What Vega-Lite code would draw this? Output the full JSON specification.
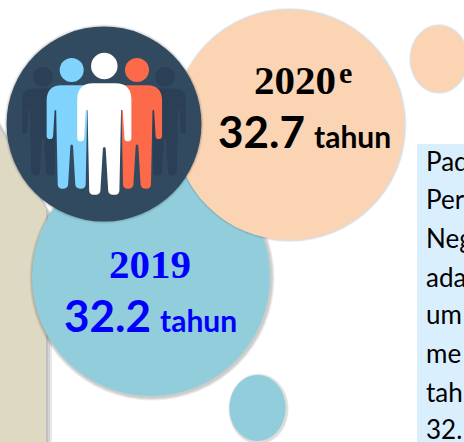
{
"$schema":"https://vega.github.io/schema/vega-lite/v6.json",
"width":464,"height":442,"padding":0,
"autosize":{"type":"fit","contains":"padding"},
"background":"#ffffff",
"view":{"stroke":null},
"datasets":{
"panel":[{"name":"note","x":417,"x2":464,"y":144,"y2":442}],
"band":[
{"ring":"s3","x":0,"y":122,"y2":442},{"ring":"s3","x":52,"y":215,"y2":442},
{"ring":"s2","x":0,"y":124,"y2":442},{"ring":"s2","x":50,"y":213,"y2":442},
{"ring":"s1","x":0,"y":126,"y2":442},{"ring":"s1","x":48,"y":211,"y2":442}
],
"beige":[{"x":0,"y":128,"y2":442},{"x":46,"y":209,"y2":442}],
"blobs":[
{"item":"shadow","form":"oval","x":258.5,"y":409,"area":5041,"kind":"shadow"},
{"item":"shadow","form":"oval","x":258.5,"y":409,"area":4761,"kind":"shadow"},
{"item":"shadow","form":"oval","x":439,"y":59,"area":4900,"kind":"shadow"},
{"item":"shadow","form":"oval","x":439,"y":59,"area":4624,"kind":"shadow"},
{"item":"y2020","form":"oval","x":439,"y":59,"area":4356,"kind":"solid"},
{"item":"y2019","form":"oval","x":257.5,"y":408,"area":4356,"kind":"solid"},
{"item":"shadow","form":"round","x":152,"y":278,"area":60025,"kind":"shadow"},
{"item":"shadow","form":"round","x":152,"y":278,"area":59049,"kind":"shadow"},
{"item":"shadow","form":"round","x":152,"y":278,"area":58081,"kind":"shadow"},
{"item":"y2019","form":"round","x":151,"y":277,"area":56644,"kind":"solid"},
{"item":"shadow","form":"round","x":289.5,"y":125,"area":54756,"kind":"shadow"},
{"item":"shadow","form":"round","x":289.5,"y":125,"area":53824,"kind":"shadow"},
{"item":"y2020","form":"round","x":289,"y":125,"area":52900,"kind":"solid"},
{"item":"shadow","form":"round","x":104,"y":124,"area":39601,"kind":"shadow"},
{"item":"shadow","form":"round","x":104,"y":124,"area":38809,"kind":"shadow"},
{"item":"icon","form":"round","x":104,"y":124,"area":38025,"kind":"solid"},
{"item":"dark","form":"round","x":43,"y":77,"area":400,"kind":"solid"},
{"item":"dark","form":"round","x":165,"y":77,"area":400,"kind":"solid"},
{"item":"dark","form":"person","x":43,"y":132,"area":7569,"kind":"solid"},
{"item":"dark","form":"person","x":165,"y":132,"area":7569,"kind":"solid"},
{"item":"sky","form":"round","x":71.7,"y":70,"area":576,"kind":"solid"},
{"item":"sky","form":"person","x":71.7,"y":137,"area":10680,"kind":"solid"},
{"item":"coral","form":"round","x":137,"y":70,"area":576,"kind":"solid"},
{"item":"coral","form":"person","x":137,"y":137,"area":10680,"kind":"solid"},
{"item":"white","form":"round","x":104.3,"y":66,"area":702,"kind":"solid"},
{"item":"white","form":"person","x":104.3,"y":139,"area":12470,"kind":"solid"}
],
"labels":[
{"text":"2020","role":"year","series":"2020","x":254,"y":94},
{"text":"e","role":"sup","series":"2020","x":339,"y":83},
{"text":"32.7","role":"value","series":"2020","x":218,"y":148},
{"text":"tahun","role":"unit","series":"2020","x":314,"y":148},
{"text":"2019","role":"year","series":"2019","x":109,"y":278},
{"text":"32.2","role":"value","series":"2019","x":64,"y":332},
{"text":"tahun","role":"unit","series":"2019","x":160,"y":332}
],
"note":[
{"text":"Pad","x":426,"y":171},{"text":"Per","x":426,"y":209},{"text":"Neg","x":426,"y":248},
{"text":"ada","x":426,"y":287},{"text":"um","x":426,"y":324},{"text":"me","x":426,"y":363},
{"text":"tah","x":426,"y":402},{"text":"32.","x":426,"y":439}
]
},
"resolve":{"scale":{"color":"independent","opacity":"independent"}},
"layer":[
{"data":{"name":"panel"},"mark":{"type":"rect","color":"#DAEFFE"},
"encoding":{
"x":{"field":"x","type":"quantitative","scale":{"domain":[0,464],"nice":false,"zero":false},"axis":null},
"x2":{"field":"x2"},
"y":{"field":"y","type":"quantitative","scale":{"domain":[442,0],"nice":false,"zero":false},"axis":null},
"y2":{"field":"y2"}}},
{"data":{"name":"band"},"mark":{"type":"area","color":"#000000","opacity":0.09},
"encoding":{
"detail":{"field":"ring"},
"x":{"field":"x","type":"quantitative","axis":null},
"y":{"field":"y","type":"quantitative","axis":null},
"y2":{"field":"y2"}}},
{"data":{"name":"beige"},"mark":{"type":"area","color":"#DDD9C3","opacity":1},
"encoding":{
"x":{"field":"x","type":"quantitative","axis":null},
"y":{"field":"y","type":"quantitative","axis":null},
"y2":{"field":"y2"}}},
{"data":{"name":"blobs"},"mark":{"type":"point","filled":true,"strokeWidth":0,"clip":true},
"encoding":{
"x":{"field":"x","type":"quantitative","axis":null},
"y":{"field":"y","type":"quantitative","axis":null},
"size":{"field":"area","type":"quantitative","legend":null,"scale":{"type":"linear","domain":[0,60000],"range":[0,60000],"zero":true}},
"shape":{"field":"form","type":"nominal","legend":null,"scale":{"domain":["round","oval","person"],"range":["circle","M -0.85,0 A 0.85,1 0 1 1 0.85,0 A 0.85,1 0 1 1 -0.85,0 Z","M -0.2,-1 L 0.2,-1 Q 0.485,-1 0.485,-0.7 L 0.485,-0.02 Q 0.485,0.04 0.42,0.04 Q 0.36,0.04 0.36,-0.02 L 0.33,-0.52 L 0.3,-0.52 L 0.27,0.93 Q 0.26,1 0.18,1 Q 0.08,1 0.07,0.93 L 0.025,0.17 Q 0,0.12 -0.025,0.17 L -0.07,0.93 Q -0.08,1 -0.18,1 Q -0.26,1 -0.27,0.93 L -0.3,-0.52 L -0.33,-0.52 L -0.36,-0.02 Q -0.36,0.04 -0.42,0.04 Q -0.485,0.04 -0.485,-0.02 L -0.485,-0.7 Q -0.485,-1 -0.2,-1 Z"]}},
"color":{"field":"item","type":"nominal","legend":null,"scale":{"domain":["shadow","y2019","y2020","icon","dark","sky","coral","white"],"range":["#000000","#92CDDC","#FBD4B4","#324A5F","#2B3F57","#7FD3FC","#FC6A4A","#FFFFFF"]}},
"opacity":{"field":"kind","type":"nominal","legend":null,"scale":{"domain":["shadow","solid"],"range":[0.07,1]}}
}},
{"data":{"name":"labels"},"transform":[{"filter":"datum.role==='year'"}],
"mark":{"type":"text","font":"Liberation Serif","fontWeight":"bold","fontSize":41,"align":"left","baseline":"alphabetic"},
"encoding":{"x":{"field":"x","type":"quantitative","axis":null},"y":{"field":"y","type":"quantitative","axis":null},"text":{"field":"text"},
"color":{"field":"series","type":"nominal","legend":null,"scale":{"domain":["2019","2020"],"range":["#0000FF","#000000"]}}}},
{"data":{"name":"labels"},"transform":[{"filter":"datum.role==='sup'"}],
"mark":{"type":"text","font":"Liberation Serif","fontWeight":"bold","fontSize":30,"align":"left","baseline":"alphabetic","color":"#000000"},
"encoding":{"x":{"field":"x","type":"quantitative","axis":null},"y":{"field":"y","type":"quantitative","axis":null},"text":{"field":"text"}}},
{"data":{"name":"labels"},"transform":[{"filter":"datum.role==='value'"}],
"mark":{"type":"text","font":"Lato","fontWeight":"bold","fontSize":44,"align":"left","baseline":"alphabetic"},
"encoding":{"x":{"field":"x","type":"quantitative","axis":null},"y":{"field":"y","type":"quantitative","axis":null},"text":{"field":"text"},
"color":{"field":"series","type":"nominal","legend":null,"scale":{"domain":["2019","2020"],"range":["#0000FF","#000000"]}}}},
{"data":{"name":"labels"},"transform":[{"filter":"datum.role==='unit'"}],
"mark":{"type":"text","font":"Lato","fontWeight":"bold","fontSize":30,"align":"left","baseline":"alphabetic"},
"encoding":{"x":{"field":"x","type":"quantitative","axis":null},"y":{"field":"y","type":"quantitative","axis":null},"text":{"field":"text"},
"color":{"field":"series","type":"nominal","legend":null,"scale":{"domain":["2019","2020"],"range":["#0000FF","#000000"]}}}},
{"data":{"name":"note"},
"mark":{"type":"text","font":"Lato","fontSize":26,"align":"left","baseline":"alphabetic","color":"#000000","clip":true},
"encoding":{"x":{"field":"x","type":"quantitative","axis":null},"y":{"field":"y","type":"quantitative","axis":null},"text":{"field":"text"}}}
]
}
